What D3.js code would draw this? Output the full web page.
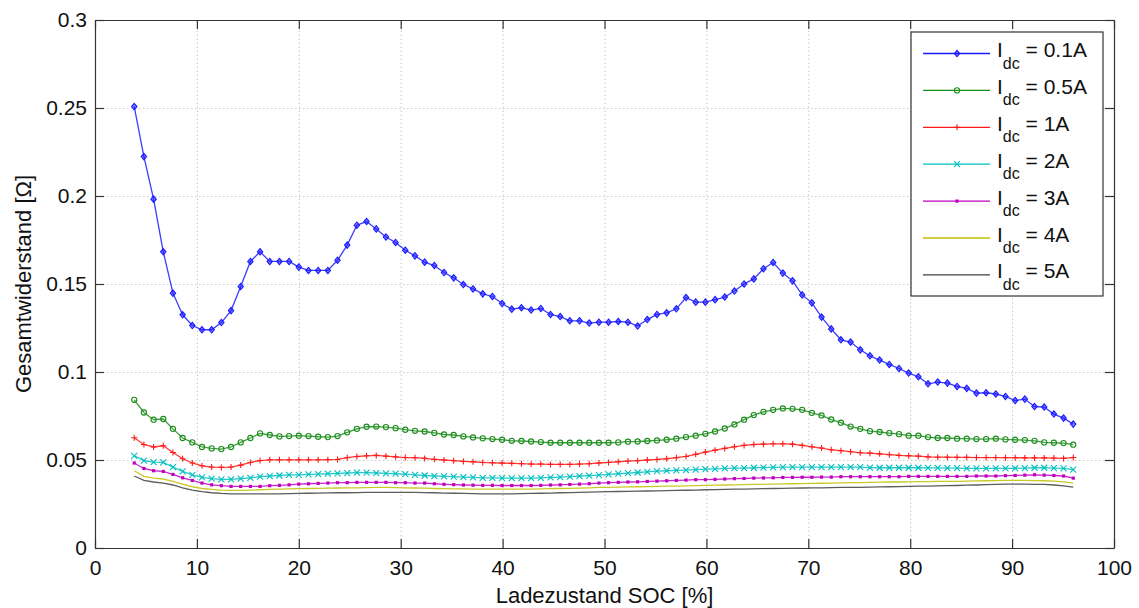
<!DOCTYPE html>
<html lang="de">
<head>
<meta charset="utf-8">
<title>Gesamtwiderstand über SOC</title>
<script src="https://cdn.jsdelivr.net/npm/d3@7"></script>
<style>
  body { margin: 0; background: #fff; }
  svg { display: block; font-family: "Liberation Sans", Arial, sans-serif; }
  .tick text { fill: #111; }
  .grid line { stroke: #c9c9c9; stroke-dasharray: 1.5,2.5; }
  .grid path { display: none; }
</style>
</head>
<body>
<script>
// SOC sample points [%]
var soc = [3.85, 4.80, 5.75, 6.70, 7.65, 8.60, 9.55, 10.50, 11.45, 12.40,
  13.35, 14.30, 15.25, 16.20, 17.15, 18.10, 19.05, 20.00, 20.95, 21.90,
  22.85, 23.80, 24.75, 25.70, 26.65, 27.60, 28.55, 29.50, 30.45, 31.40,
  32.35, 33.30, 34.25, 35.20, 36.15, 37.10, 38.05, 39.00, 39.95, 40.90,
  41.85, 42.80, 43.75, 44.70, 45.65, 46.60, 47.55, 48.50, 49.45, 50.40,
  51.35, 52.30, 53.25, 54.20, 55.15, 56.10, 57.05, 58.00, 58.95, 59.90,
  60.85, 61.80, 62.75, 63.70, 64.65, 65.60, 66.55, 67.50, 68.45, 69.40,
  70.35, 71.30, 72.25, 73.20, 74.15, 75.10, 76.05, 77.00, 77.95, 78.90,
  79.85, 80.80, 81.75, 82.70, 83.65, 84.60, 85.55, 86.50, 87.45, 88.40,
  89.35, 90.30, 91.25, 92.20, 93.15, 94.10, 95.05, 96.00];

// Gesamtwiderstand [Ohm] per current
var r01 = [0.2508, 0.2224, 0.1982, 0.1683, 0.1448, 0.1325, 0.1264, 0.1240, 0.1240, 0.1281,
  0.1349, 0.1486, 0.1628, 0.1683, 0.1628, 0.1628, 0.1628, 0.1596, 0.1577, 0.1577,
  0.1577, 0.1635, 0.1721, 0.1834, 0.1855, 0.1813, 0.1767, 0.1736, 0.1692, 0.1660,
  0.1624, 0.1605, 0.1565, 0.1535, 0.1497, 0.1472, 0.1444, 0.1429, 0.1389, 0.1357,
  0.1365, 0.1352, 0.1361, 0.1327, 0.1315, 0.1291, 0.1291, 0.1278, 0.1283, 0.1283,
  0.1287, 0.1283, 0.1261, 0.1298, 0.1327, 0.1336, 0.1359, 0.1423, 0.1397, 0.1397,
  0.1411, 0.1426, 0.1460, 0.1500, 0.1529, 0.1587, 0.1622, 0.1562, 0.1518, 0.1438,
  0.1393, 0.1312, 0.1245, 0.1183, 0.1170, 0.1126, 0.1092, 0.1068, 0.1043, 0.1020,
  0.0994, 0.0973, 0.0933, 0.0943, 0.0937, 0.0918, 0.0907, 0.0880, 0.0882, 0.0875,
  0.0861, 0.0838, 0.0846, 0.0804, 0.0801, 0.0761, 0.0738, 0.0704];
var r05 = [0.0842, 0.0770, 0.0729, 0.0733, 0.0677, 0.0625, 0.0600, 0.0574, 0.0566, 0.0562,
  0.0574, 0.0600, 0.0625, 0.0651, 0.0642, 0.0634, 0.0636, 0.0638, 0.0636, 0.0632,
  0.0630, 0.0636, 0.0657, 0.0677, 0.0689, 0.0690, 0.0687, 0.0681, 0.0672, 0.0666,
  0.0662, 0.0654, 0.0645, 0.0642, 0.0634, 0.0628, 0.0623, 0.0619, 0.0615, 0.0609,
  0.0608, 0.0605, 0.0602, 0.0598, 0.0598, 0.0598, 0.0598, 0.0598, 0.0598, 0.0598,
  0.0600, 0.0604, 0.0605, 0.0608, 0.0611, 0.0615, 0.0621, 0.0630, 0.0638, 0.0649,
  0.0662, 0.0679, 0.0702, 0.0729, 0.0755, 0.0774, 0.0785, 0.0793, 0.0791, 0.0785,
  0.0768, 0.0753, 0.0730, 0.0712, 0.0690, 0.0677, 0.0664, 0.0659, 0.0653, 0.0647,
  0.0638, 0.0638, 0.0630, 0.0625, 0.0625, 0.0621, 0.0621, 0.0619, 0.0619, 0.0621,
  0.0617, 0.0615, 0.0613, 0.0609, 0.0600, 0.0598, 0.0596, 0.0587];
var r1 = [0.0626, 0.0588, 0.0574, 0.0581, 0.0543, 0.0507, 0.0483, 0.0467, 0.0460, 0.0458,
  0.0460, 0.0471, 0.0486, 0.0497, 0.0501, 0.0501, 0.0501, 0.0501, 0.0501, 0.0501,
  0.0502, 0.0503, 0.0513, 0.0520, 0.0524, 0.0526, 0.0522, 0.0518, 0.0514, 0.0513,
  0.0509, 0.0504, 0.0500, 0.0496, 0.0492, 0.0490, 0.0486, 0.0484, 0.0483, 0.0481,
  0.0479, 0.0477, 0.0477, 0.0475, 0.0475, 0.0475, 0.0477, 0.0479, 0.0483, 0.0486,
  0.0490, 0.0494, 0.0496, 0.0500, 0.0503, 0.0507, 0.0513, 0.0520, 0.0532, 0.0545,
  0.0556, 0.0566, 0.0575, 0.0583, 0.0588, 0.0590, 0.0592, 0.0592, 0.0590, 0.0583,
  0.0575, 0.0568, 0.0558, 0.0553, 0.0547, 0.0541, 0.0539, 0.0535, 0.0530, 0.0526,
  0.0524, 0.0522, 0.0518, 0.0516, 0.0516, 0.0515, 0.0515, 0.0514, 0.0514, 0.0514,
  0.0513, 0.0513, 0.0512, 0.0512, 0.0512, 0.0511, 0.0509, 0.0514];
var r2 = [0.0524, 0.0497, 0.0488, 0.0486, 0.0460, 0.0435, 0.0415, 0.0401, 0.0394, 0.0390,
  0.0390, 0.0394, 0.0399, 0.0405, 0.0409, 0.0412, 0.0416, 0.0416, 0.0418, 0.0420,
  0.0422, 0.0424, 0.0426, 0.0428, 0.0428, 0.0426, 0.0424, 0.0422, 0.0420, 0.0416,
  0.0412, 0.0409, 0.0407, 0.0405, 0.0403, 0.0401, 0.0399, 0.0399, 0.0397, 0.0397,
  0.0397, 0.0397, 0.0399, 0.0401, 0.0403, 0.0405, 0.0409, 0.0411, 0.0414, 0.0418,
  0.0422, 0.0426, 0.0429, 0.0433, 0.0437, 0.0439, 0.0441, 0.0443, 0.0445, 0.0448,
  0.0450, 0.0452, 0.0454, 0.0454, 0.0456, 0.0457, 0.0458, 0.0460, 0.0460, 0.0460,
  0.0460, 0.0460, 0.0460, 0.0460, 0.0460, 0.0459, 0.0457, 0.0456, 0.0456, 0.0456,
  0.0456, 0.0456, 0.0455, 0.0455, 0.0454, 0.0454, 0.0452, 0.0452, 0.0452, 0.0452,
  0.0452, 0.0452, 0.0454, 0.0456, 0.0456, 0.0454, 0.0452, 0.0445];
var r3 = [0.0483, 0.0452, 0.0439, 0.0435, 0.0418, 0.0399, 0.0384, 0.0369, 0.0359, 0.0354,
  0.0350, 0.0350, 0.0350, 0.0350, 0.0354, 0.0356, 0.0359, 0.0363, 0.0365, 0.0367,
  0.0369, 0.0371, 0.0371, 0.0373, 0.0373, 0.0373, 0.0373, 0.0371, 0.0371, 0.0369,
  0.0369, 0.0365, 0.0362, 0.0360, 0.0358, 0.0357, 0.0356, 0.0356, 0.0355, 0.0355,
  0.0355, 0.0355, 0.0356, 0.0358, 0.0359, 0.0361, 0.0363, 0.0365, 0.0369, 0.0371,
  0.0373, 0.0375, 0.0376, 0.0378, 0.0380, 0.0382, 0.0384, 0.0386, 0.0388, 0.0388,
  0.0390, 0.0392, 0.0394, 0.0395, 0.0397, 0.0398, 0.0399, 0.0401, 0.0401, 0.0402,
  0.0402, 0.0403, 0.0403, 0.0405, 0.0405, 0.0405, 0.0405, 0.0405, 0.0405, 0.0405,
  0.0407, 0.0407, 0.0407, 0.0407, 0.0407, 0.0407, 0.0407, 0.0409, 0.0409, 0.0409,
  0.0411, 0.0412, 0.0414, 0.0416, 0.0414, 0.0412, 0.0409, 0.0397];
var r4 = [0.0439, 0.0407, 0.0397, 0.0392, 0.0378, 0.0363, 0.0348, 0.0338, 0.0333, 0.0329,
  0.0327, 0.0327, 0.0329, 0.0331, 0.0333, 0.0335, 0.0336, 0.0337, 0.0338, 0.0339,
  0.0340, 0.0341, 0.0342, 0.0342, 0.0343, 0.0344, 0.0344, 0.0343, 0.0342, 0.0341,
  0.0340, 0.0338, 0.0337, 0.0336, 0.0336, 0.0335, 0.0335, 0.0335, 0.0335, 0.0335,
  0.0335, 0.0335, 0.0336, 0.0337, 0.0338, 0.0339, 0.0340, 0.0342, 0.0344, 0.0345,
  0.0346, 0.0347, 0.0348, 0.0349, 0.0350, 0.0351, 0.0352, 0.0353, 0.0354, 0.0356,
  0.0357, 0.0358, 0.0359, 0.0360, 0.0361, 0.0362, 0.0363, 0.0364, 0.0365, 0.0366,
  0.0367, 0.0368, 0.0369, 0.0370, 0.0371, 0.0372, 0.0373, 0.0374, 0.0375, 0.0375,
  0.0376, 0.0377, 0.0377, 0.0378, 0.0378, 0.0379, 0.0380, 0.0381, 0.0382, 0.0383,
  0.0384, 0.0384, 0.0384, 0.0383, 0.0382, 0.0380, 0.0376, 0.0369];
var r5 = [0.0409, 0.0384, 0.0375, 0.0369, 0.0358, 0.0342, 0.0329, 0.0320, 0.0314, 0.0310,
  0.0308, 0.0308, 0.0308, 0.0308, 0.0308, 0.0308, 0.0309, 0.0310, 0.0311, 0.0312,
  0.0313, 0.0314, 0.0314, 0.0315, 0.0316, 0.0316, 0.0316, 0.0316, 0.0316, 0.0316,
  0.0315, 0.0314, 0.0312, 0.0311, 0.0310, 0.0309, 0.0308, 0.0308, 0.0307, 0.0308,
  0.0309, 0.0310, 0.0311, 0.0312, 0.0314, 0.0315, 0.0316, 0.0317, 0.0319, 0.0320,
  0.0321, 0.0322, 0.0323, 0.0324, 0.0325, 0.0326, 0.0327, 0.0328, 0.0329, 0.0331,
  0.0332, 0.0333, 0.0334, 0.0335, 0.0336, 0.0337, 0.0338, 0.0339, 0.0340, 0.0341,
  0.0342, 0.0342, 0.0343, 0.0344, 0.0344, 0.0345, 0.0346, 0.0347, 0.0348, 0.0349,
  0.0350, 0.0351, 0.0352, 0.0353, 0.0354, 0.0355, 0.0357, 0.0358, 0.0360, 0.0361,
  0.0363, 0.0363, 0.0363, 0.0362, 0.0361, 0.0358, 0.0353, 0.0346];

var currents = ["0.1A", "0.5A", "1A", "2A", "3A", "4A", "5A"];
var colors = ["#1a1aff", "#1a8c1a", "#ff1a1a", "#00bfbf", "#bf00bf", "#bfbf00", "#404040"];
var markers = ["diamond", "circle", "plus", "cross", "dot", "none", "none"];

var xTicks = [0, 10, 20, 30, 40, 50, 60, 70, 80, 90, 100];
var yTicks = [0, 0.05, 0.1, 0.15, 0.2, 0.25, 0.3];
var yTickLabels = ["0", "0.05", "0.1", "0.15", "0.2", "0.25", "0.3"];

var series = [r01, r05, r1, r2, r3, r4, r5].map(function(vals, i) {
  return { name: currents[i], color: colors[i], marker: markers[i],
           values: vals.map(function(v, j) { return { x: soc[j], y: v }; }) };
});

var W = 1139, H = 608;
var margin = { top: 20, right: 25, bottom: 60, left: 95 };
var w = W - margin.left - margin.right,
    h = H - margin.top - margin.bottom;

var svg = d3.select("body").append("svg").attr("width", W).attr("height", H);
var g = svg.append("g").attr("transform", "translate(" + margin.left + "," + margin.top + ")");

var x = d3.scaleLinear().domain([0, 100]).range([0, w]);
var y = d3.scaleLinear().domain([0, 0.3]).range([h, 0]);

// grid
g.append("g").attr("class", "grid").attr("transform", "translate(0," + h + ")")
  .call(d3.axisBottom(x).tickValues(xTicks).tickSize(-h).tickFormat(""));
g.append("g").attr("class", "grid")
  .call(d3.axisLeft(y).tickValues(yTicks).tickSize(-w).tickFormat(""));

// lines
var line = d3.line().x(function(d) { return x(d.x); }).y(function(d) { return y(d.y); });

function drawMarker(sel, type, color) {
  if (type === "diamond") {
    sel.append("path").attr("d", "M0,-3.2L2.7,0L0,3.2L-2.7,0Z")
      .attr("fill", color).attr("fill-opacity", 0.55)
      .attr("stroke", color).attr("stroke-width", 1.1);
  } else if (type === "circle") {
    sel.append("circle").attr("r", 2.6).attr("fill", "none").attr("stroke", color).attr("stroke-width", 1.1);
  } else if (type === "plus") {
    sel.append("path").attr("d", "M-3,0H3M0,-3V3").attr("stroke", color).attr("stroke-width", 1.1);
  } else if (type === "cross") {
    sel.append("path").attr("d", "M-3,-3L3,3M-3,3L3,-3").attr("stroke", color).attr("stroke-width", 1.1);
  } else if (type === "dot") {
    sel.append("rect").attr("x", -1.6).attr("y", -1.6).attr("width", 3.2).attr("height", 3.2).attr("fill", color);
  }
}

var plot = g.append("g");
series.slice().reverse().forEach(function(s) {
  plot.append("path").datum(s.values)
    .attr("d", line)
    .attr("fill", "none")
    .attr("stroke", s.color)
    .attr("stroke-width", 1.3)
    .attr("stroke-opacity", 0.85);
  if (s.marker !== "none") {
    plot.append("g").selectAll("g").data(s.values).enter().append("g")
      .attr("transform", function(d) { return "translate(" + x(d.x) + "," + y(d.y) + ")"; })
      .each(function() { drawMarker(d3.select(this), s.marker, s.color); });
  }
});

// axes (box with inward ticks)
var axisColor = "#333";
function styleAxis(a) {
  a.select(".domain").attr("stroke", axisColor).attr("stroke-width", 1.2);
  a.selectAll(".tick line").attr("stroke", axisColor).attr("stroke-width", 1.2);
  a.selectAll("text").attr("font-size", 21).attr("font-family", "Liberation Sans, Arial, sans-serif");
}
var xb = g.append("g").attr("transform", "translate(0," + h + ")")
  .call(d3.axisBottom(x).tickValues(xTicks).tickSizeInner(-9).tickSizeOuter(0).tickPadding(12));
styleAxis(xb);
var xt = g.append("g")
  .call(d3.axisTop(x).tickValues(xTicks).tickSizeInner(-9).tickSizeOuter(0).tickFormat(""));
styleAxis(xt);
var yl = g.append("g")
  .call(d3.axisLeft(y).tickValues(yTicks).tickSizeInner(-9).tickSizeOuter(0).tickPadding(8)
    .tickFormat(function(d, i) { return yTickLabels[i]; }));
styleAxis(yl);
var yr = g.append("g").attr("transform", "translate(" + w + ",0)")
  .call(d3.axisRight(y).tickValues(yTicks).tickSizeInner(-9).tickSizeOuter(0).tickFormat(""));
styleAxis(yr);

// axis labels
svg.append("text")
  .attr("x", margin.left + w / 2).attr("y", 603)
  .attr("text-anchor", "middle").attr("font-size", 22).attr("fill", "#111")
  .text("Ladezustand SOC [%]");
svg.append("text")
  .attr("transform", "translate(31," + (margin.top + h / 2) + ") rotate(-90)")
  .attr("text-anchor", "middle").attr("font-size", 22).attr("fill", "#111")
  .text("Gesamtwiderstand [Ω]");

// legend
var lg = svg.append("g").attr("transform", "translate(911,32)");
lg.append("rect").attr("width", 192).attr("height", 264)
  .attr("fill", "#fff").attr("stroke", axisColor).attr("stroke-width", 1.2);
series.forEach(function(s, i) {
  var ly = 21.5 + i * 36.9;
  var row = lg.append("g").attr("transform", "translate(0," + ly + ")");
  row.append("path").attr("d", "M12,0H79")
    .attr("stroke", s.color).attr("stroke-width", 1.3);
  if (s.marker !== "none") drawMarker(row.append("g").attr("transform", "translate(46,0)"), s.marker, s.color);
  var t = row.append("text").attr("x", 86).attr("y", 3.5).attr("font-size", 21).attr("fill", "#111");
  t.append("tspan").text("I");
  t.append("tspan").attr("font-size", 16).attr("dy", 11.5).text("dc");
  t.append("tspan").attr("dy", -11.5).text(" = " + s.name);
});
</script>
</body>
</html>
